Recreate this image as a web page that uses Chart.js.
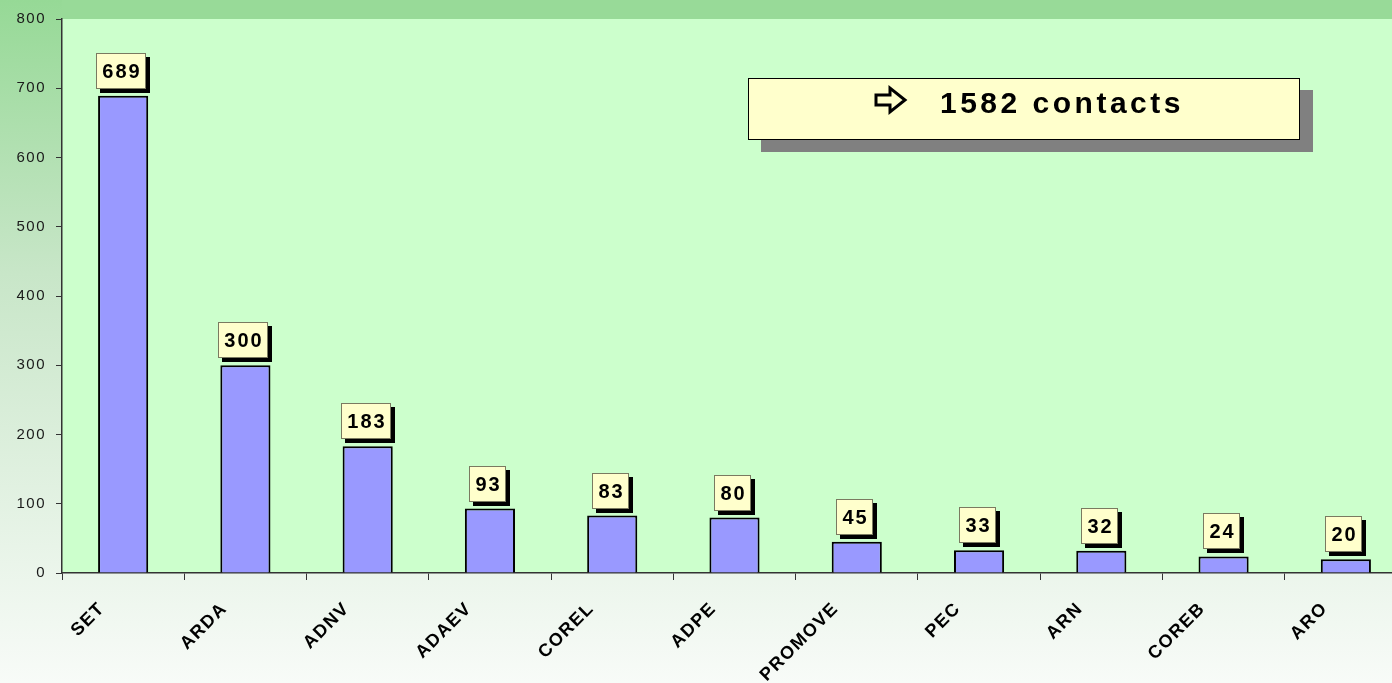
<!DOCTYPE html>
<html>
<head>
<meta charset="utf-8">
<script src="https://cdn.jsdelivr.net/npm/chart.js@4.4.1/dist/chart.umd.min.js"></script>
<style>
  html, body {
    margin: 0;
    padding: 0;
    overflow: hidden;
    width: 1392px;
    height: 683px;
    background: linear-gradient(to bottom, #96d996 0%, #c8e6c8 40%, #f8fbf8 100%);
  }
  .chart-wrap {
    position: absolute;
    left: 0;
    top: 0;
    width: 1407px;
    height: 683px;
  }
</style>
</head>
<body>
<div class="chart-wrap"><canvas id="chart"></canvas></div>
<script>
const categories = [`SET`, `ARDA`, `ADNV`, `ADAEV`, `COREL`, `ADPE`, `PROMOVE`, `PEC`, `ARN`, `COREB`, `ARO`];
const contacts = [689, 300, 183, 93, 83, 80, 45, 33, 32, 24, 20];
const Y_MIN = 0;
const Y_MAX = 800;
const Y_STEP = 100;
const totalText = `1582 contacts`;

const PLOT_BG = `#ccffcc`;
const BAR_COLOR = `#9999ff`;
const BOX_FILL = `#ffffcc`;

const plotBackground = {
  id: `plotBackground`,
  beforeLayout(chart) {
    chart.ctx.letterSpacing = `1.5px`;
  },
  beforeDraw(chart) {
    const {ctx, chartArea} = chart;
    ctx.save();
    ctx.fillStyle = `#98da98`;
    ctx.fillRect(chartArea.left, 0, chartArea.right - chartArea.left, chartArea.top);
    ctx.fillStyle = PLOT_BG;
    ctx.fillRect(chartArea.left, chartArea.top, chartArea.right - chartArea.left, chartArea.bottom - chartArea.top);
    ctx.restore();
    ctx.letterSpacing = `1.5px`;
  },
};

const valueBoxes = {
  id: `valueBoxes`,
  afterDatasetsDraw(chart) {
    const ctx = chart.ctx;
    const meta = chart.getDatasetMeta(0);
    ctx.save();
    ctx.font = `bold 20px Arial, "Liberation Sans", sans-serif`;
    ctx.letterSpacing = `2px`;
    ctx.textAlign = `center`;
    ctx.textBaseline = `middle`;
    meta.data.forEach((bar, i) => {
      const text = String(contacts[i]);
      const w = Math.round(ctx.measureText(text).width + 11);
      const h = 36;
      const left = Math.round(bar.x - 2 - w / 2);
      const top = Math.round(bar.y - 7 - h);

      ctx.fillStyle = `#000000`;
      ctx.fillRect(left + 4, top + 4, w, h);
      ctx.fillStyle = BOX_FILL;
      ctx.fillRect(left, top, w, h);
      ctx.strokeStyle = `#7a7a60`;
      ctx.lineWidth = 1;
      ctx.strokeRect(left + 0.5, top + 0.5, w - 1, h - 1);

      ctx.fillStyle = `#000000`;
      ctx.fillText(text, left + w / 2 + 1, top + h / 2 + 1);
    });
    ctx.restore();
  },
};

const totalBox = {
  id: `totalBox`,
  afterDraw(chart) {
    const ctx = chart.ctx;
    const left = 748;
    const top = 78;
    const w = 552;
    const h = 62;
    ctx.save();
    ctx.fillStyle = `#808080`;
    ctx.fillRect(left + 13, top + 12, w, h);
    ctx.fillStyle = BOX_FILL;
    ctx.fillRect(left, top, w, h);
    ctx.strokeStyle = `#000000`;
    ctx.lineWidth = 1;
    ctx.strokeRect(left + 0.5, top + 0.5, w - 1, h - 1);

    // outline arrow
    ctx.beginPath();
    ctx.moveTo(876, 95);
    ctx.lineTo(890, 95);
    ctx.lineTo(890, 88);
    ctx.lineTo(905, 100);
    ctx.lineTo(890, 112);
    ctx.lineTo(890, 105);
    ctx.lineTo(876, 105);
    ctx.closePath();
    ctx.lineWidth = 3;
    ctx.lineJoin = `miter`;
    ctx.strokeStyle = `#000000`;
    ctx.stroke();

    ctx.font = `bold 30px Arial, "Liberation Sans", sans-serif`;
    ctx.letterSpacing = `3.5px`;
    ctx.textAlign = `left`;
    ctx.textBaseline = `alphabetic`;
    ctx.fillStyle = `#000000`;
    ctx.fillText(totalText, 940, 113);
    ctx.restore();
  },
};

const ctx = document.getElementById(`chart`).getContext(`2d`);

new Chart(ctx, {
  type: `bar`,
  plugins: [plotBackground, valueBoxes, totalBox],
  data: {
    labels: categories,
    datasets: [{
      label: `Contacts`,
      data: contacts,
      backgroundColor: BAR_COLOR,
      borderColor: `#000000`,
      borderWidth: 2,
      borderSkipped: `bottom`,
      barPercentage: 0.41,
      categoryPercentage: 1,
    }],
  },
  options: {
    responsive: true,
    maintainAspectRatio: false,
    animation: false,
    layout: {
      padding: {top: 19, right: 0, left: 0, bottom: 0},
    },
    plugins: {
      legend: {display: false},
      tooltip: {enabled: false},
    },
    scales: {
      x: {
        afterFit(scale) {
          scale.height = 110;
        },
        grid: {
          offset: true,
          drawOnChartArea: false,
          drawTicks: true,
          tickLength: 7,
          color: `#333333`,
          lineWidth: 1,
        },
        border: {display: true, color: `#333333`, width: 1.5},
        ticks: {
          minRotation: 45,
          maxRotation: 45,
          autoSkip: false,
          padding: 18,
          labelOffset: -21,
          color: `#000000`,
          font: {family: `Arial, "Liberation Sans", sans-serif`, size: 18, weight: `bold`},
        },
      },
      y: {
        min: Y_MIN,
        max: Y_MAX,
        afterFit(scale) {
          scale.width = 62;
        },
        grid: {
          drawOnChartArea: false,
          drawTicks: true,
          tickLength: 6,
          color: `#333333`,
          lineWidth: 1,
        },
        border: {display: true, color: `#333333`, width: 1.5},
        ticks: {
          stepSize: Y_STEP,
          padding: 10,
          color: `#1a1a1a`,
          font: {family: `Arial, "Liberation Sans", sans-serif`, size: 15},
        },
      },
    },
  },
});
</script>
</body>
</html>
